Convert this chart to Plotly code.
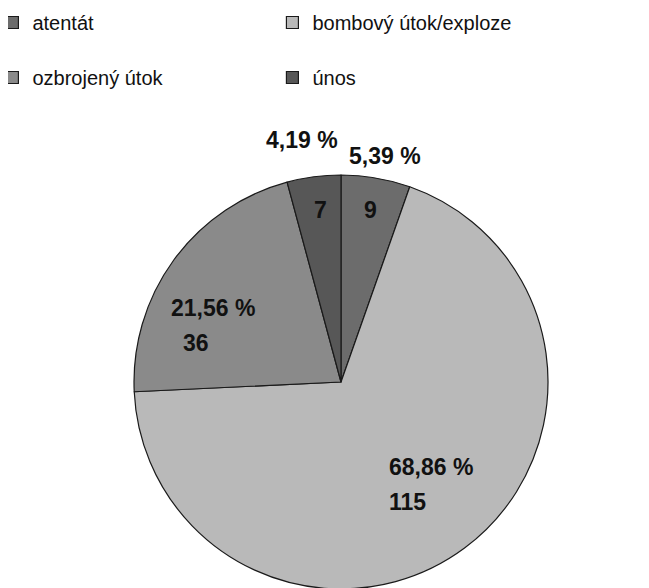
import plotly.graph_objects as go

labels = ['atentát', 'bombový útok/exploze', 'ozbrojený útok', 'únos']
values = [9, 115, 36, 7]
colors = ['#6c6c6c', '#b9b9b9', '#8a8a8a', '#575757']

W, H = 649, 588
OFF = 8  # page body margin shifts the figure by this much
total = sum(values)
pct = [f"{v / total * 100:.2f}".replace('.', ',') + ' %' for v in values]

# label placement in page pixels: (percent x, y), (count x, y)
label_pos = [
    ((385, 156), (370, 210)),
    ((431, 467), (407, 502)),
    ((213, 308), (196, 343)),
    ((302, 140), (320, 210)),
]


def px(x):
    return (x - OFF) / W


def py(y):
    return 1 - (y - OFF) / H


fig = go.Figure()
fig.add_trace(
    go.Pie(
        labels=[l + '<br> ' for l in labels],
        values=values,
        sort=False,
        direction='clockwise',
        rotation=0,
        marker=dict(colors=colors, line=dict(color='#1a1a1a', width=1.2)),
        textinfo='none',
        hoverinfo='skip',
        domain=dict(x=[px(134), px(548)], y=[py(589), py(175)]),
    )
)

bold = dict(family='Liberation Sans, Arial, sans-serif', size=23, color='#111111')
for p, c, ((tx, ty), (cx, cy)) in zip(pct, values, label_pos):
    fig.add_annotation(text=f'<b>{p}</b>', x=px(tx), y=py(ty),
                       xref='paper', yref='paper', xanchor='center', yanchor='middle',
                       showarrow=False, font=bold)
    fig.add_annotation(text=f'<b>{c}</b>', x=px(cx), y=py(cy),
                       xref='paper', yref='paper', xanchor='center', yanchor='middle',
                       showarrow=False, font=bold)

fig.update_layout(
    width=W,
    height=H,
    margin=dict(l=0, r=0, t=0, b=0, autoexpand=False),
    paper_bgcolor='white',
    plot_bgcolor='white',
    showlegend=True,
    legend=dict(
        orientation='h',
        x=-0.024,
        y=1.0085,
        xanchor='left',
        yanchor='top',
        valign='top',
        entrywidth=235,
        entrywidthmode='pixels',
        font=dict(family='Liberation Sans, Arial, sans-serif', size=20, color='#111111'),
        bgcolor='rgba(0,0,0,0)',
    ),
)

fig.write_html("out.html")
